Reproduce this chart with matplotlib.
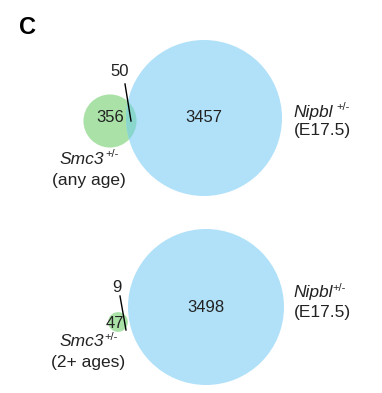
import numpy as np
import matplotlib
matplotlib.use('Agg')
from matplotlib import pyplot as plt
from matplotlib.patches import Circle

plt.rcParams['font.family'] = ['Liberation Sans', 'DejaVu Sans']

# counts: [Smc3 only, overlap, Nipbl only]
top_counts = [356, 50, 3457]
bottom_counts = [47, 9, 3498]
top_labels = ['Smc3', '(any age)']
bottom_labels = ['Smc3', '(2+ ages)']
nipbl_labels = ['Nipbl', '(E17.5)']
SUP = '+/-'

GREEN = '#a9e1a7'
BLUE = '#b1e1f9'
TEAL = '#88d6cc'
TXT = '#222222'
SCALE = 78 / np.sqrt(3507)  # pixel radius per sqrt(count)


def gene_label(ax, x, y, name, sub, gap, spacing):
    # italic gene name with small upright superscript, genotype line under it
    t = ax.text(x, y, name, style='italic', fontsize=12.5, ha='left', va='center', color=TXT)
    ax.annotate(SUP, xy=(1, 0.85), xycoords=t, xytext=(gap, 0), textcoords='offset points',
                fontsize=8, ha='left', va='center', color=TXT)
    ax.text(x + 29, y + spacing, sub, fontsize=12.5, ha='center', va='center', color=TXT)


def draw_venn(ax, counts, big_c, small_c, small_num, over_num, line):
    r_small = SCALE * np.sqrt(counts[0] + counts[1])
    r_big = SCALE * np.sqrt(counts[1] + counts[2])
    ax.add_patch(Circle(small_c, r_small, color=GREEN, lw=0))
    big = Circle(big_c, r_big, color=BLUE, lw=0)
    ax.add_patch(big)
    lens = Circle(small_c, r_small, color=TEAL, lw=0)
    ax.add_patch(lens)
    lens.set_clip_path(big)
    ax.text(big_c[0], big_c[1], str(counts[2]), ha='center', va='center', fontsize=12, color=TXT)
    ax.text(small_num[0], small_num[1], str(counts[0]), ha='center', va='center', fontsize=12, color=TXT)
    ax.text(over_num[0], over_num[1], str(counts[1]), ha='center', va='center', fontsize=12, color=TXT)
    ax.plot([line[0][0], line[1][0]], [line[0][1], line[1][1]], color='black', lw=1)


fig = plt.figure(figsize=(3.82, 3.93), dpi=100)
ax = fig.add_axes([0, 0, 1, 1])
ax.set_xlim(0, 382)
ax.set_ylim(393, 0)
ax.set_aspect('equal')
ax.axis('off')

ax.text(28, 28, 'C', fontsize=17, fontweight='bold', ha='center', va='center')

draw_venn(ax, top_counts, (204, 118), (110, 121), (110, 118), (120, 72),
          ((125, 84), (131, 121)))
gene_label(ax, 293, 112, nipbl_labels[0], nipbl_labels[1], 3, 19)
gene_label(ax, 60, 159, top_labels[0], top_labels[1], 1, 21)

draw_venn(ax, bottom_counts, (206, 307), (118, 322), (115, 323), (117, 287),
          ((120, 296), (126, 330)))
gene_label(ax, 293, 293, nipbl_labels[0], nipbl_labels[1], 0, 20)
gene_label(ax, 59, 342, bottom_labels[0], bottom_labels[1], 1, 21)

fig.savefig('out.png', dpi=100)
